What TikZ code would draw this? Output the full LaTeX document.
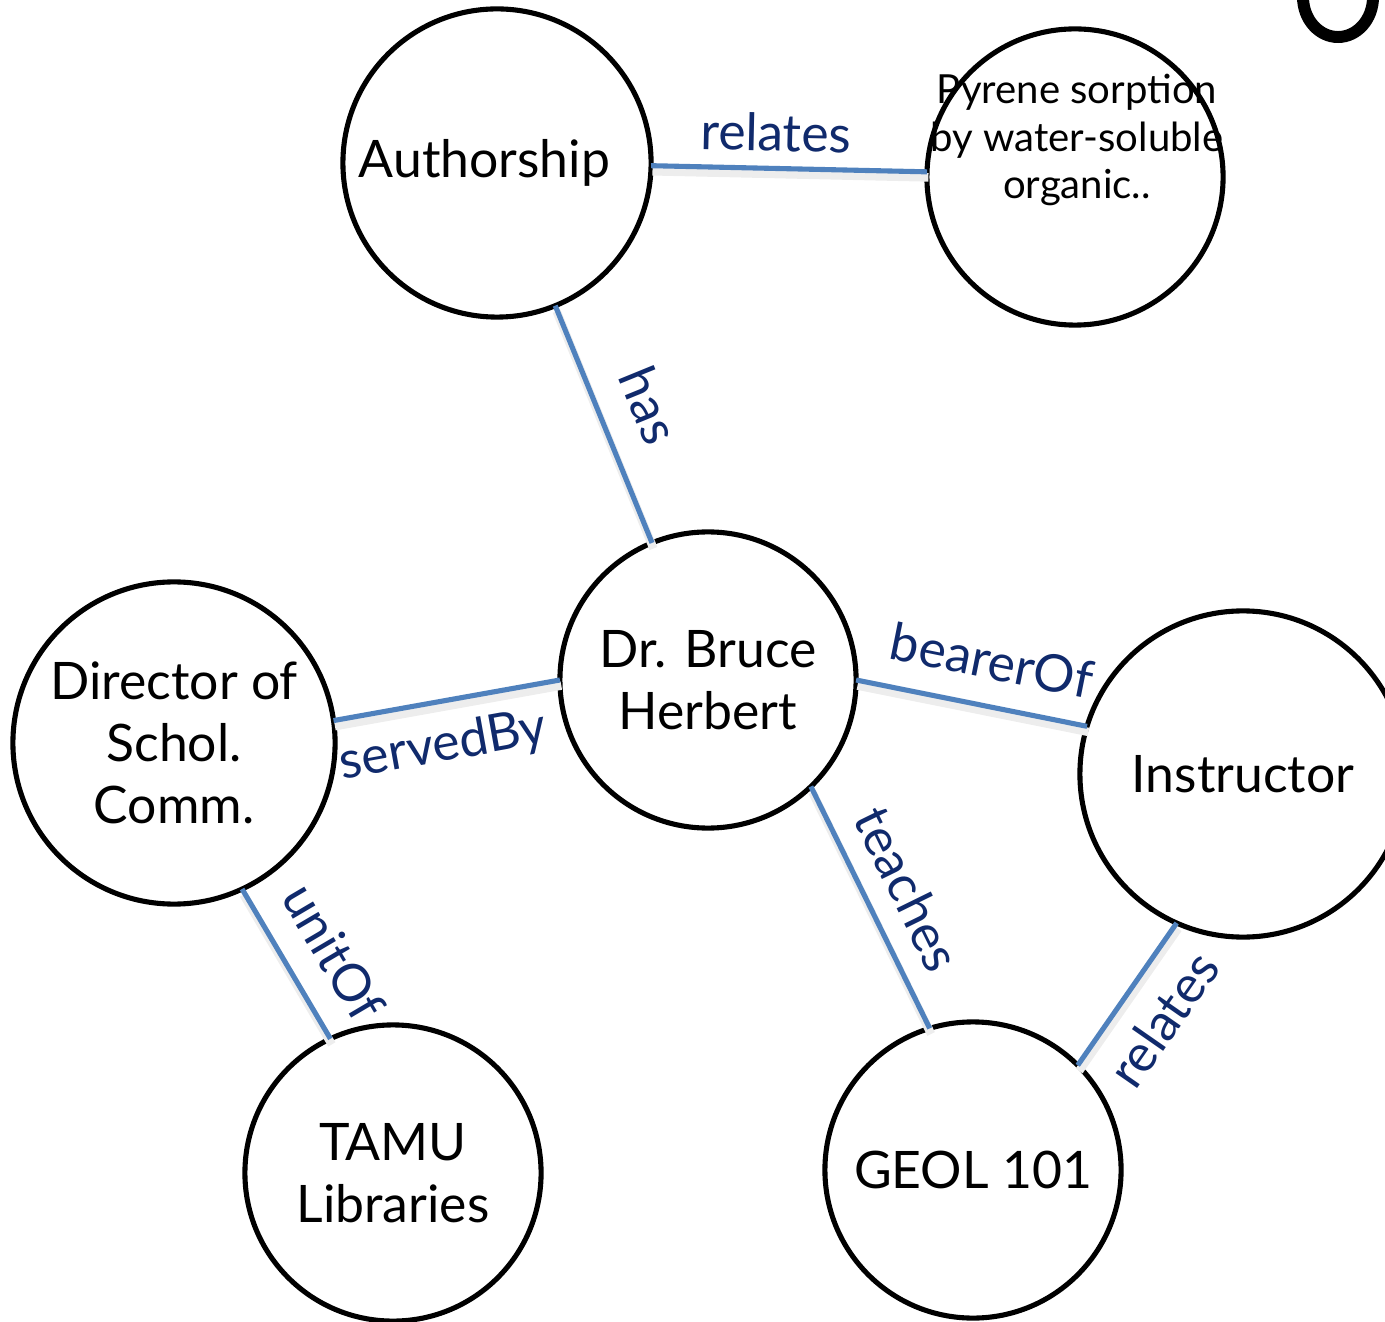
\documentclass[tikz,border=0pt]{standalone}
\usepackage{fontspec}
\setmainfont{Lato}
\definecolor{edgeblue}{RGB}{79,129,189}
\definecolor{labblue}{RGB}{16,42,108}
\begin{document}
\begin{tikzpicture}[x=0.01cm,y=-0.01cm,
  ent/.style={circle, draw=black, line width=1.45pt, inner sep=0pt, outer sep=0pt, align=center,
    font=\fontsize{14.7}{17.6}\selectfont},
  edge/.style={draw=edgeblue, line width=1.45pt,
    preaction={draw=black!7, line width=2.4pt, transform canvas={shift={(0.4pt,-1.6pt)}}}},
  lab/.style={sloped, midway, anchor=center, inner sep=0pt, text=labblue,
    font=\fontsize{14.7}{17}\selectfont}]
\useasboundingbox (0,0) rectangle (1385,1322);

\node[ent, minimum size=3.08cm] (auth) at (497,163) {\hspace*{-0.25cm}Authorship};
\node[ent, minimum size=2.96cm] (pyr) at (1075,177) {};
\node[font=\fontsize{11.4}{13.4}\selectfont, align=center, inner sep=0pt] (pyrtext) at (1077,140)
  {Pyrene sorption\\by water-soluble\\organic..};
\node[ent, minimum size=2.96cm] (herb) at (708,680) {Dr. Bruce\\Herbert};
\node[ent, minimum size=3.22cm] (dir) at (174,743) {Director of\\Schol.\\Comm.};
\node[ent, minimum size=3.26cm] (inst) at (1243,774) {Instructor};
\node[ent, minimum size=2.96cm] (tamu) at (393,1173) {TAMU\\Libraries};
\node[ent, minimum size=2.96cm] (geol) at (973,1170) {GEOL 101};

\draw[edge] (auth.-1.8) -- node[lab, pos=0.45, yshift=0.36cm] (l1) {relates} (pyr.178.4);
\draw[edge] (auth) -- node[lab, yshift=0.5cm] (l2) {has} (herb);
\draw[edge] (dir.8) -- node[lab, pos=0.45, yshift=-0.45cm] (l3) {servedBy} (herb.180);
\draw[edge] (herb.0) -- node[lab, pos=0.55, yshift=0.46cm] (l4) {bearerOf} (inst.163);
\draw[edge] (herb.-46) -- node[lab, yshift=0.42cm] (l5) {teaches} (geol.107);
\draw[edge] (dir.-65) -- node[lab, pos=0.58, yshift=0.47cm] (l6) {unitOf} (tamu.115);
\draw[edge] (geol.45.5) -- node[lab, yshift=-0.44cm] (l7) {relates} (inst.246);

\draw[line width=3.4pt] (1338,-3) ellipse [x radius=0.35cm, y radius=0.40cm];
\end{tikzpicture}
\end{document}
